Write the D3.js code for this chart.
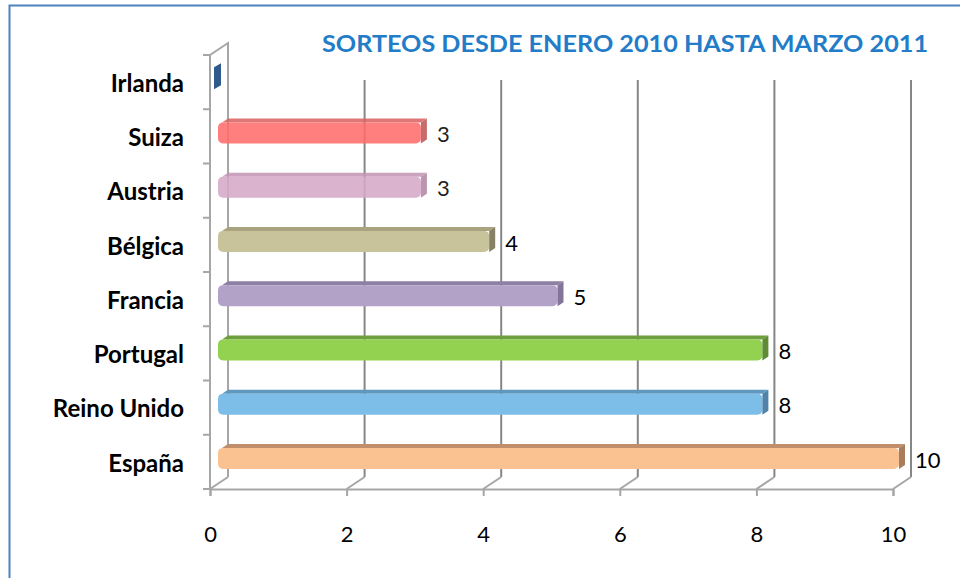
<html>
<head>
<meta charset="utf-8">
<script src="https://d3js.org/d3.v7.min.js"></script>
<style>
  body { margin: 0; background: #fff; }
  text { font-family: Lato, "Open Sans", sans-serif; }
</style>
</head>
<body>
<div id="chart"></div>
<script>
// data
var categories = ["Irlanda", "Suiza", "Austria", "Bélgica", "Francia", "Portugal", "Reino Unido", "España"];
var values = [0, 3, 3, 4, 5, 8, 8, 10];
var xTicks = [0, 2, 4, 6, 8, 10];
var title = "SORTEOS DESDE ENERO 2010 HASTA MARZO 2011";

// colours: front, top, end
var fronts = ["#2F5A8C", "#FF6E6E", "#D6A9C9", "#C9C39C", "#B3A2C8", "#93D151", "#7DBEE9", "#FAC191"];
var tops   = ["#2A4F7A", "#DB6565", "#C497B6", "#A9A37F", "#8E7FA5", "#6E9E3E", "#5F97BE", "#C08E6A"];
var ends   = ["#244368", "#C05858", "#B288A5", "#868164", "#837599", "#5F8B35", "#4F83AA", "#A97C5C"];

var width = 960, height = 578;
var dx = 18, dy = -12; // depth offset of the back wall

var svg = d3.select("#chart").append("svg")
  .attr("width", width)
  .attr("height", height);

// chart border
svg.append("path")
  .attr("d", "M9.5,578 L9.5,5.5 L960,5.5")
  .attr("fill", "none")
  .attr("stroke", "#4F81BD")
  .attr("stroke-width", 2);

var x = d3.scaleLinear().domain([0, 10]).range([210, 893]);
var y = d3.scaleBand().domain(categories).range([55, 489]);

// title
svg.append("text")
  .attr("x", 322)
  .attr("y", 52)
  .attr("textLength", 606)
  .attr("lengthAdjust", "spacingAndGlyphs")
  .attr("font-size", 22)
  .attr("font-weight", "bold")
  .attr("fill", "#237CC8")
  .text(title);

// back wall gridlines
svg.selectAll(".grid")
  .data(xTicks.filter(function(d) { return d > 0; }))
  .enter().append("line")
  .attr("x1", function(d) { return x(d) + dx; })
  .attr("x2", function(d) { return x(d) + dx; })
  .attr("y1", 80)
  .attr("y2", 489 + dy)
  .attr("stroke", "#868686")
  .attr("stroke-width", 2);

// floor diagonals
svg.selectAll(".diag")
  .data(xTicks)
  .enter().append("line")
  .attr("x1", function(d) { return x(d); })
  .attr("x2", function(d) { return x(d) + dx; })
  .attr("y1", 489)
  .attr("y2", 489 + dy)
  .attr("stroke", "#A6A6A6")
  .attr("stroke-width", 2);

// left side wall
svg.append("path")
  .attr("d", "M" + (210 + dx) + "," + (489 + dy) + " L" + (210 + dx) + "," + (55 + dy) + " L210,55 L210,489")
  .attr("fill", "none")
  .attr("stroke", "#A6A6A6")
  .attr("stroke-width", 2);

// left axis ticks at band edges
var edges = categories.map(function(c) { return y(c); }).concat([489]);
svg.selectAll(".ltick")
  .data(edges)
  .enter().append("line")
  .attr("x1", 203).attr("x2", 210)
  .attr("y1", function(d) { return d; })
  .attr("y2", function(d) { return d; })
  .attr("stroke", "#A6A6A6")
  .attr("stroke-width", 2);

// bottom axis
var xAxis = svg.append("g")
  .attr("transform", "translate(0,489)")
  .call(d3.axisBottom(x).tickValues(xTicks).tickSize(7).tickPadding(30).tickFormat(d3.format("d")));
xAxis.select(".domain").attr("stroke", "#A6A6A6").attr("stroke-width", 2);
xAxis.selectAll(".tick line").attr("stroke", "#A6A6A6").attr("stroke-width", 2);
xAxis.selectAll("text")
  .attr("font-family", "Lato, sans-serif")
  .attr("font-size", 22)
  .attr("fill", "#000");

// category labels
var yAxis = svg.append("g")
  .attr("transform", "translate(210,2)")
  .call(d3.axisLeft(y).tickSize(0).tickPadding(26));
yAxis.select(".domain").remove();
yAxis.selectAll("text")
  .attr("font-family", "Lato, sans-serif")
  .attr("font-size", 24)
  .attr("font-weight", "bold")
  .attr("fill", "#000")
  .attr("dy", "0.32em");

// bars
var data = categories.map(function(c, i) { return { name: c, value: values[i], i: i }; });
var bars = svg.selectAll(".bar")
  .data(data)
  .enter().append("g")
  .attr("class", "bar")
  .attr("opacity", function(d) { return (d.name === "Suiza" || d.name === "Austria") ? 0.88 : 1; });

bars.each(function(d) {
  var g = d3.select(this);
  var c = y(d.name) + y.bandwidth() / 2;
  var x0 = 218;
  var x1 = x(d.value) + 6;
  var t = c - 14, b = c + 7;
  var ex = 6, ey = -4;
  if (d.value > 0) {
    // top face
    g.append("path")
      .attr("d", "M" + (x0 + 4) + "," + t + " L" + (x0 + 4 + ex) + "," + (t + ey) +
                 " L" + (x1 + ex) + "," + (t + ey) + " L" + x1 + "," + t + " Z")
      .attr("fill", tops[d.i]);
    // front face
    g.append("rect")
      .attr("x", x0).attr("y", t)
      .attr("width", x1 - x0).attr("height", b - t)
      .attr("rx", 5)
      .attr("fill", fronts[d.i]);
    // end face
    g.append("path")
      .attr("d", "M" + x1 + "," + t + " L" + (x1 + ex) + "," + (t + ey) +
                 " L" + (x1 + ex) + "," + (b + ey) + " L" + x1 + "," + b + " Z")
      .attr("fill", ends[d.i]);
    // value label
    g.append("text")
      .attr("x", x1 + 16)
      .attr("y", c - 2)
      .attr("dy", "0.35em")
      .attr("font-size", 22)
      .attr("fill", "#000")
      .text(d.value);
  } else {
    // zero-length bar: only its end cap shows
    var zx = 214;
    g.append("path")
      .attr("d", "M" + zx + "," + (c - 15) + " L" + (zx + 7) + "," + (c - 19) +
                 " L" + (zx + 7) + "," + (c + 3) + " L" + zx + "," + (c + 7) + " Z")
      .attr("fill", fronts[d.i]);
  }
});
</script>
</body>
</html>
